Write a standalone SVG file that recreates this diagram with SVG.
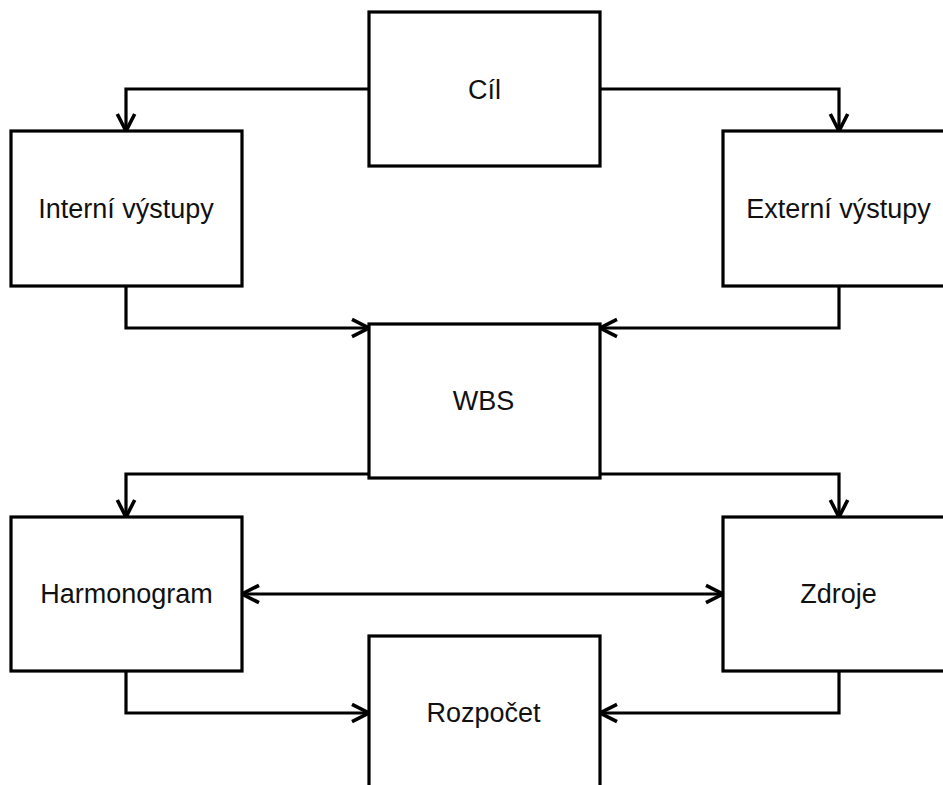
<svg xmlns="http://www.w3.org/2000/svg" width="943" height="785" viewBox="0 0 943 785">
  <style>
    .box { fill: #ffffff; stroke: #000000; stroke-width: 3.2; }
    .label { font-family: "Liberation Sans", Arial, sans-serif; font-size: 27px; fill: #111111; text-anchor: middle; }
    .edge { fill: none; stroke: #000000; stroke-width: 3.2; stroke-linejoin: miter; }
  </style>
  <defs>
    <marker id="open-arrow" viewBox="-20 -12 24 24" refX="0" refY="0" markerWidth="24" markerHeight="24" markerUnits="userSpaceOnUse" orient="auto-start-reverse" overflow="visible">
      <path d="M -17 -8.7 L 0 0 L -17 8.7" fill="none" stroke="#000000" stroke-width="3.6" stroke-linejoin="miter"/>
    </marker>
  </defs>
  <rect width="943" height="785" fill="#ffffff"/>

  <!-- connectors -->
  <g id="connectors">
    <path class="edge" d="M 369 89 L 126 89 L 126 131" marker-end="url(#open-arrow)"/>
    <path class="edge" d="M 600 89 L 839 89 L 839 131" marker-end="url(#open-arrow)"/>
    <path class="edge" d="M 126 286 L 126 328 L 369 328" marker-end="url(#open-arrow)"/>
    <path class="edge" d="M 839 286 L 839 328 L 600 328" marker-end="url(#open-arrow)"/>
    <path class="edge" d="M 369 474 L 126 474 L 126 517" marker-end="url(#open-arrow)"/>
    <path class="edge" d="M 600 474 L 839 474 L 839 517" marker-end="url(#open-arrow)"/>
    <path class="edge" d="M 242 594 L 723 594" marker-start="url(#open-arrow)" marker-end="url(#open-arrow)"/>
    <path class="edge" d="M 126 671 L 126 713 L 369 713" marker-end="url(#open-arrow)"/>
    <path class="edge" d="M 839 671 L 839 713 L 600 713" marker-end="url(#open-arrow)"/>
  </g>

  <!-- nodes -->
  <g id="cil">
    <rect class="box" x="369" y="12" width="231" height="154"/>
    <text class="label" x="484.5" y="98.5">Cíl</text>
  </g>
  <g id="interni-vystupy">
    <rect class="box" x="11" y="131" width="231" height="155"/>
    <text class="label" x="126" y="218">Interní výstupy</text>
  </g>
  <g id="externi-vystupy">
    <rect class="box" x="723" y="131" width="231" height="155"/>
    <text class="label" x="838.5" y="218">Externí výstupy</text>
  </g>
  <g id="wbs">
    <rect class="box" x="369" y="324" width="231" height="154"/>
    <text class="label" x="483.5" y="410">WBS</text>
  </g>
  <g id="harmonogram">
    <rect class="box" x="11" y="517" width="231" height="154"/>
    <text class="label" x="126.5" y="603">Harmonogram</text>
  </g>
  <g id="zdroje">
    <rect class="box" x="723" y="517" width="231" height="154"/>
    <text class="label" x="838.5" y="603">Zdroje</text>
  </g>
  <g id="rozpocet">
    <rect class="box" x="369" y="636" width="231" height="154"/>
    <text class="label" x="483.5" y="722">Rozpočet</text>
  </g>
</svg>
